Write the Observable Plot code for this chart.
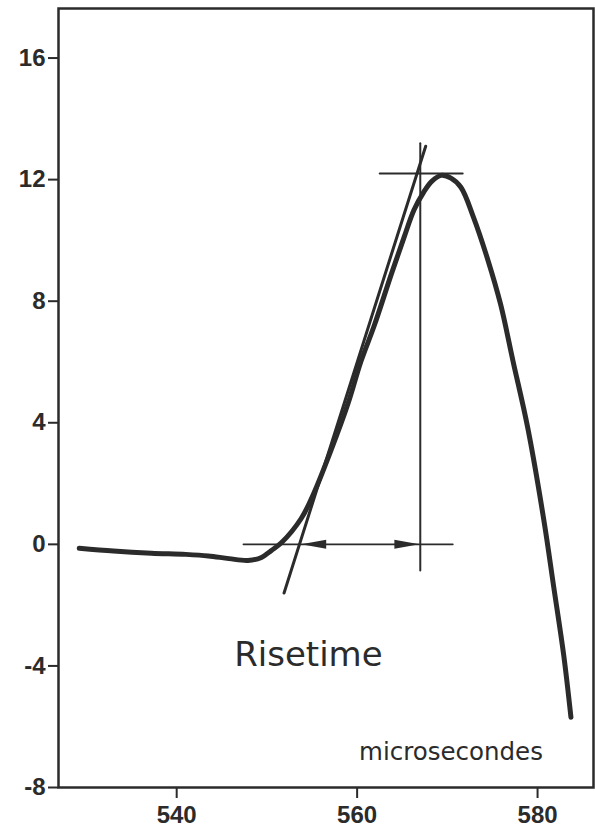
<!DOCTYPE html>
<html>
<head>
<meta charset="utf-8">
<script src="https://cdn.jsdelivr.net/npm/d3@7"></script>
<script src="https://cdn.jsdelivr.net/npm/@observablehq/plot@0.6"></script>
<style>
  html, body { margin: 0; padding: 0; background: #fff; }
  #chart { width: 595px; height: 827px; }
</style>
</head>
<body>
<div id="chart"></div>
<script>
// Pulse curve (time in microseconds, amplitude)
const time = [529.2, 533.0, 537.2, 541.0, 543.5, 545.8, 547.9, 549.4, 550.5, 551.6, 553.8, 555.2, 557.1, 559.0, 560.4, 561.9, 563.8, 565.2, 566.3, 567.4, 568.3, 569.3, 570.4, 571.5, 572.9, 574.5, 575.9, 577.3, 578.9, 580.7, 581.8, 582.9, 583.7];
const amplitude = [-0.13, -0.22, -0.29, -0.33, -0.38, -0.47, -0.53, -0.43, -0.20, 0.05, 0.85, 1.68, 3.09, 4.64, 6.0, 7.2, 8.9, 10.1, 11.0, 11.6, 11.95, 12.14, 12.05, 11.75, 10.76, 9.35, 7.9, 6.0, 3.85, 0.79, -1.42, -3.65, -5.69];

// Construction lines
const tangentX = [551.9, 567.6];
const tangentY = [-1.6, 13.1];
const peakLineX = [562.5, 571.7];
const peakLevel = 12.2;
const baseLineX = [547.4, 570.6];
const baseLevel = 0;
const markerX = 567.0;
const markerY = [-0.86, 13.2];
const arrowTipX = [553.8, 566.9];
const arrowDir = ["left", "right"];

const xTicks = [540, 560, 580];
const yTicks = [-8, -4, 0, 4, 8, 12, 16];

const curve = time.map((t, i) => ({t, a: amplitude[i]}));
const tangent = tangentX.map((x, i) => ({x, y: tangentY[i]}));
const peakLine = peakLineX.map(x => ({x, y: peakLevel}));
const baseLine = baseLineX.map(x => ({x, y: baseLevel}));
const marker = markerY.map(y => ({x: markerX, y}));
const arrows = arrowTipX.map((x, i) => ({x, y: baseLevel, dir: arrowDir[i]}));

const ink = "#2b2b2b";
const leftHead = {draw(ctx) { ctx.moveTo(0, 0); ctx.lineTo(25, -4.5); ctx.lineTo(25, 4.5); ctx.closePath(); }};
const rightHead = {draw(ctx) { ctx.moveTo(0, 0); ctx.lineTo(-25, -4.5); ctx.lineTo(-25, 4.5); ctx.closePath(); }};
const tickFont = "'Liberation Sans', Arial, sans-serif";

const chart = Plot.plot({
  width: 595,
  height: 827,
  marginLeft: 58,
  marginRight: 2,
  marginTop: 8,
  marginBottom: 40,
  style: {fontFamily: "'DejaVu Sans', sans-serif", color: ink, background: "#fff"},
  x: {domain: [526.9, 586.2]},
  y: {domain: [-8, 17.63]},
  marks: [
    Plot.axisY({ticks: yTicks, tickSize: 10, tickPadding: 3, tickFormat: d => String(d), label: null, fontSize: 24, fontWeight: "bold", fontFamily: tickFont, strokeWidth: 2, stroke: ink, fill: ink}),
    Plot.axisX({ticks: xTicks, tickSize: 11, tickPadding: 7, tickFormat: d => String(d), label: null, fontSize: 24, fontWeight: "bold", fontFamily: tickFont, strokeWidth: 2, stroke: ink, fill: ink}),
    Plot.frame({stroke: ink, strokeWidth: 2.5}),
    Plot.line(baseLine, {x: "x", y: "y", stroke: ink, strokeWidth: 1.8}),
    Plot.line(peakLine, {x: "x", y: "y", stroke: ink, strokeWidth: 2}),
    Plot.line(marker, {x: "x", y: "y", stroke: ink, strokeWidth: 2}),
    Plot.line(tangent, {x: "x", y: "y", stroke: ink, strokeWidth: 3}),
    Plot.line(curve, {x: "t", y: "a", curve: "catmull-rom", stroke: ink, strokeWidth: 5, strokeLinecap: "round", strokeLinejoin: "round"}),
    Plot.dot(arrows.filter(d => d.dir === "left"), {x: "x", y: "y", r: 1, symbol: leftHead, fill: ink, stroke: "none"}),
    Plot.dot(arrows.filter(d => d.dir === "right"), {x: "x", y: "y", r: 1, symbol: rightHead, fill: ink, stroke: "none"}),
    Plot.text(["Risetime"], {x: 554.6, y: -3.65, text: d => d, fontSize: 34, fill: ink, textAnchor: "middle", lineAnchor: "middle"}),
    Plot.text(["microsecondes"], {x: 570.4, y: -6.85, text: d => d, fontSize: 24.5, fill: ink, textAnchor: "middle", lineAnchor: "middle"})
  ]
});
document.getElementById("chart").appendChild(chart);
</script>
</body>
</html>
